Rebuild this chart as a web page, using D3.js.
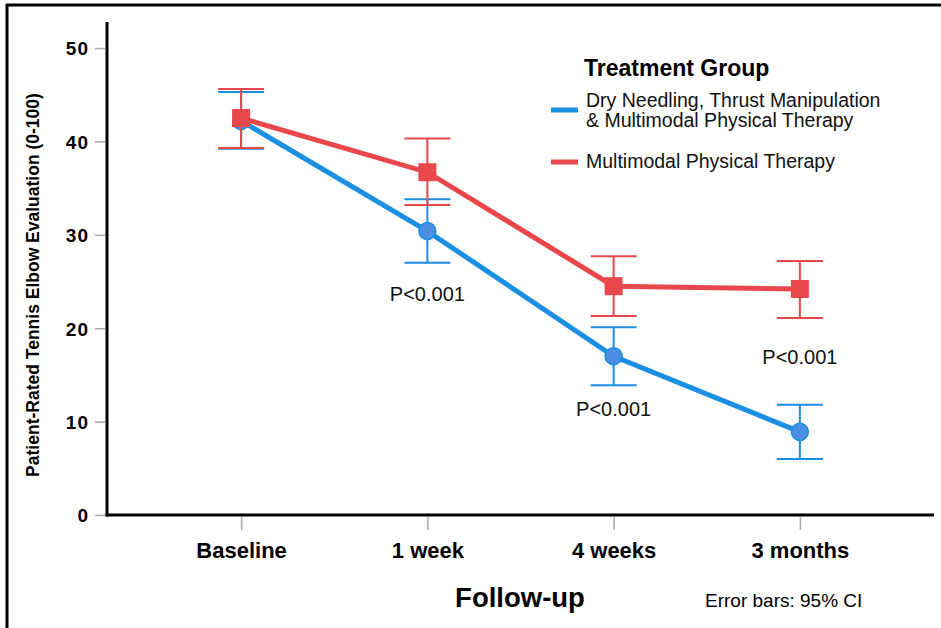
<!DOCTYPE html>
<html>
<head>
<meta charset="utf-8">
<script src="https://cdn.jsdelivr.net/npm/d3@7"></script>
<style>
  body { margin: 0; background: #fff; }
  svg { display: block; font-family: "Liberation Sans", Arial, sans-serif; }
</style>
</head>
<body>
<div id="chart"></div>
<script>
// Follow-up time points and group means with 95% CI
const timepoints = ["Baseline", "1 week", "4 weeks", "3 months"]
const yTicks = [0, 10, 20, 30, 40, 50]

const dnMean = [42.2, 30.4, 17.0, 8.9]
const dnLow = [39.2, 27.0, 13.9, 6.0]
const dnHigh = [45.3, 33.8, 20.1, 11.8]

const mptMean = [42.5, 36.7, 24.5, 24.2]
const mptLow = [39.3, 33.2, 21.3, 21.1]
const mptHigh = [45.6, 40.3, 27.7, 27.2]

const pLabels = ["", "P<0.001", "P<0.001", "P<0.001"]
const pValuePos = [null, 22.9, 10.6, 16.2]

const blue = "#1b8fe2"
const red = "#e8484c"

const W = 941, H = 628
const svg = d3.select("#chart").append("svg").attr("width", W).attr("height", H)

// outer frame (top + left edge only visible)
svg.append("line").attr("x1", 6).attr("x2", W).attr("y1", 5).attr("y2", 5)
  .attr("stroke", "#000").attr("stroke-width", 3)
svg.append("line").attr("x1", 7).attr("x2", 7).attr("y1", 4).attr("y2", H)
  .attr("stroke", "#000").attr("stroke-width", 3)

const x = d3.scalePoint().domain(timepoints).range([107, 934]).padding(0.72)
const y = d3.scaleLinear().domain([0, 50]).range([515, 48])

// Y axis
const yAxis = svg.append("g").attr("transform", "translate(107,0)")
  .call(d3.axisLeft(y).tickValues(yTicks).tickSize(12).tickPadding(6).tickFormat(d3.format("d")))
yAxis.select(".domain").remove()
yAxis.selectAll(".tick line").attr("stroke", "#aaa").attr("stroke-width", 1.5).attr("x2", -12).attr("x1", -2)
yAxis.selectAll(".tick text").attr("font-size", 19).attr("font-weight", "bold").attr("fill", "#000")
  .attr("letter-spacing", 1).attr("dy", "0.36em")
svg.append("line").attr("x1", 107).attr("x2", 107).attr("y1", 22).attr("y2", 516.5)
  .attr("stroke", "#000").attr("stroke-width", 3)

// X axis
const xAxis = svg.append("g").attr("transform", "translate(0,515)")
  .call(d3.axisBottom(x).tickSize(15).tickPadding(12))
xAxis.select(".domain").remove()
xAxis.selectAll(".tick line").attr("stroke", "#aaa").attr("stroke-width", 1.5).attr("y1", 2)
xAxis.selectAll(".tick text").attr("font-size", 22).attr("font-weight", "bold").attr("fill", "#000")
svg.append("line").attr("x1", 105.5).attr("x2", 934).attr("y1", 515).attr("y2", 515)
  .attr("stroke", "#000").attr("stroke-width", 3)

// axis titles
svg.append("text")
  .attr("transform", "translate(39,285) rotate(-90)")
  .attr("text-anchor", "middle")
  .attr("font-size", 17.5).attr("font-weight", "bold")
  .text("Patient-Rated Tennis Elbow Evaluation (0-100)")

svg.append("text").attr("x", 520).attr("y", 607)
  .attr("text-anchor", "middle").attr("font-size", 27.5).attr("font-weight", "bold")
  .text("Follow-up")

svg.append("text").attr("x", 705).attr("y", 607)
  .attr("font-size", 19)
  .text("Error bars: 95% CI")

// series drawing
const capHalf = 23
function drawSeries(mean, low, high, color) {
  const g = svg.append("g")
  timepoints.forEach((t, i) => {
    const cx = x(t)
    g.append("line").attr("x1", cx).attr("x2", cx).attr("y1", y(low[i])).attr("y2", y(high[i]))
      .attr("stroke", color).attr("stroke-width", 2)
    ;[low[i], high[i]].forEach(v => {
      g.append("line").attr("x1", cx - capHalf).attr("x2", cx + capHalf)
        .attr("y1", y(v)).attr("y2", y(v))
        .attr("stroke", color).attr("stroke-width", 2)
    })
  })
  const line = d3.line().x((d, i) => x(timepoints[i])).y(d => y(d))
  g.append("path").datum(mean).attr("d", line)
    .attr("fill", "none").attr("stroke", color).attr("stroke-width", 5)
  return g
}

const gBlue = drawSeries(dnMean, dnLow, dnHigh, blue)
gBlue.selectAll(".pt").data(dnMean).enter().append("circle")
  .attr("cx", (d, i) => x(timepoints[i])).attr("cy", d => y(d)).attr("r", 8.5)
  .attr("fill", "#4a8fe3").attr("stroke", blue).attr("stroke-width", 1.5)

const gRed = drawSeries(mptMean, mptLow, mptHigh, red)
gRed.selectAll(".pt").data(mptMean).enter().append("rect")
  .attr("x", (d, i) => x(timepoints[i]) - 9).attr("y", d => y(d) - 9)
  .attr("width", 18).attr("height", 18).attr("fill", red)

// P-value labels
timepoints.forEach((t, i) => {
  if (!pLabels[i]) return
  svg.append("text").attr("x", x(t)).attr("y", y(pValuePos[i]))
    .attr("text-anchor", "middle").attr("font-size", 20).attr("fill", "#111")
    .text(pLabels[i])
})

// legend
const lg = svg.append("g")
lg.append("text").attr("x", 584).attr("y", 76).attr("font-size", 23).attr("font-weight", "bold")
  .text("Treatment Group")
lg.append("line").attr("x1", 551).attr("x2", 578).attr("y1", 110).attr("y2", 110)
  .attr("stroke", blue).attr("stroke-width", 5)
lg.append("text").attr("x", 586).attr("y", 107).attr("font-size", 19.5).attr("fill", "#111")
  .text("Dry Needling, Thrust Manipulation")
lg.append("text").attr("x", 586).attr("y", 127).attr("font-size", 19.5).attr("fill", "#111")
  .text("& Multimodal Physical Therapy")
lg.append("line").attr("x1", 551).attr("x2", 578).attr("y1", 162).attr("y2", 162)
  .attr("stroke", red).attr("stroke-width", 5)
lg.append("text").attr("x", 586).attr("y", 168).attr("font-size", 19.5).attr("fill", "#111")
  .text("Multimodal Physical Therapy")
</script>
</body>
</html>
